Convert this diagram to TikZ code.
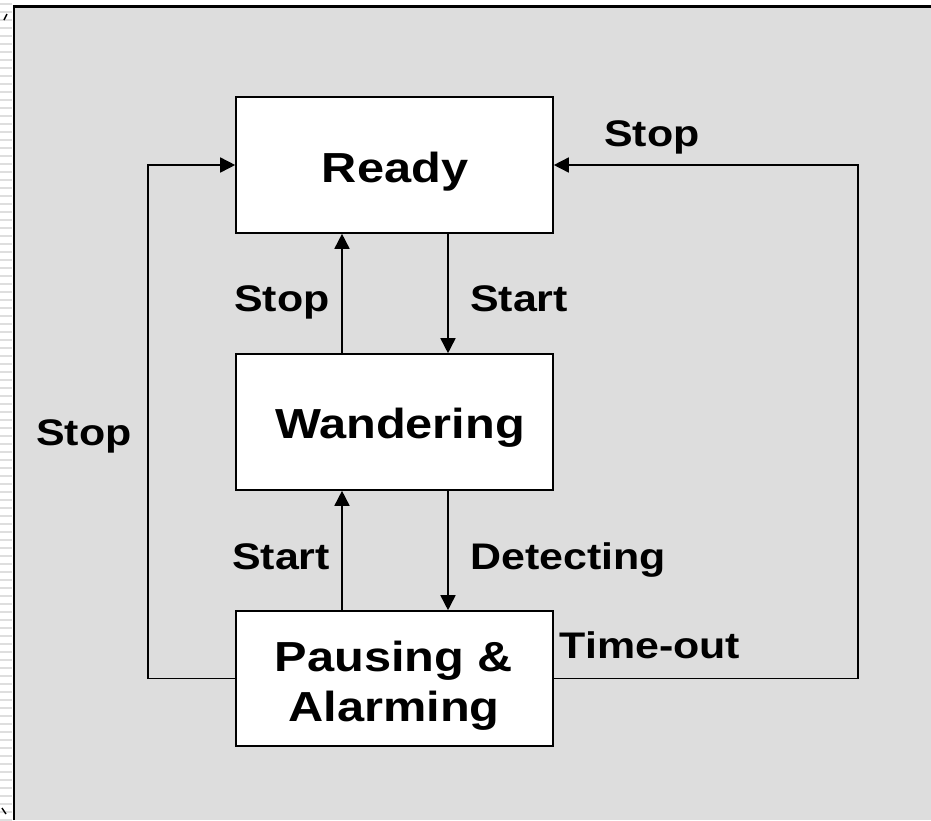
\documentclass[tikz,border=0pt]{standalone}
\usepackage{fontspec}
\setmainfont{Liberation Sans}
\usetikzlibrary{arrows.meta}
\definecolor{bg}{RGB}{221,221,221}
\definecolor{stripe}{RGB}{222,222,222}
\newcommand{\wide}[1]{\scalebox{1.16}[1]{#1}}
\begin{document}
\begin{tikzpicture}[x=1pt,y=-1pt,
  statebox/.style={draw=black, fill=white, line width=1.6pt, minimum width=317pt, minimum height=136pt, inner sep=0pt},
  statetext/.style={font=\fontsize{42}{50}\selectfont\bfseries, anchor=base, inner sep=0pt},
  lbl/.style={font=\fontsize{37}{44}\selectfont\bfseries, anchor=base, inner sep=0pt},
  conn/.style={line width=1.6pt, -{Triangle[length=15pt,width=15pt]}}]
\useasboundingbox (0,0) rectangle (931,820);
% left striped margin
\fill[white] (0,0) rectangle (14,820);
\foreach \yy in {3,11,...,819} {\fill[stripe] (0,\yy) rectangle (12,\yy+2);}
\draw[line width=1.4pt] (4,20) -- (7,14);
\draw[line width=1.4pt] (2,808) -- (6,814);
% background panel
\fill[bg] (14,6.5) rectangle (931,820);
\draw[line width=2.6pt] (14,820) -- (14,6.5) -- (931,6.5);
% states
\node[statebox] (ready) at (394.5,165) {};
\node[statebox] (wand) at (394.5,422) {};
\node[statebox, minimum height=135pt] (pause) at (394.5,678.5) {};
\node[statetext] (tready) at (395,182) {\wide{Ready}};
\node[statetext] (twand) at (400,438) {\wide{Wandering}};
\node[statetext] (tpause1) at (394,671) {\wide{Pausing \&}};
\node[statetext] (tpause2) at (394,721) {\wide{Alarming}};
% connectors
\draw[conn] ([xshift=-52.5pt]wand.north) -- ([xshift=-52.5pt]ready.south);
\draw[conn] ([xshift=53.5pt]ready.south) -- ([xshift=53.5pt]wand.north);
\draw[conn] ([xshift=-52.5pt]pause.north) -- ([xshift=-52.5pt]wand.south);
\draw[conn] ([xshift=53.5pt]wand.south) -- ([xshift=53.5pt]pause.north);
\coordinate (lcorner) at (148,678.5);
\coordinate (rcorner) at (858,678.5);
\draw[conn] (pause.west) -- (lcorner) |- (ready.west);
\draw[conn] (pause.east) -- (rcorner) |- (ready.east);
% labels
\node[lbl] (l1) at (652,146) {\wide{Stop}};
\node[lbl] (l2) at (282,311) {\wide{Stop}};
\node[lbl] (l3) at (519,311) {\wide{Start}};
\node[lbl] (l4) at (84,445) {\wide{Stop}};
\node[lbl] (l5) at (281,569) {\wide{Start}};
\node[lbl] (l6) at (568,569) {\wide{Detecting}};
\node[lbl] (l7) at (650,658) {\wide{Time-out}};
\end{tikzpicture}
\end{document}
